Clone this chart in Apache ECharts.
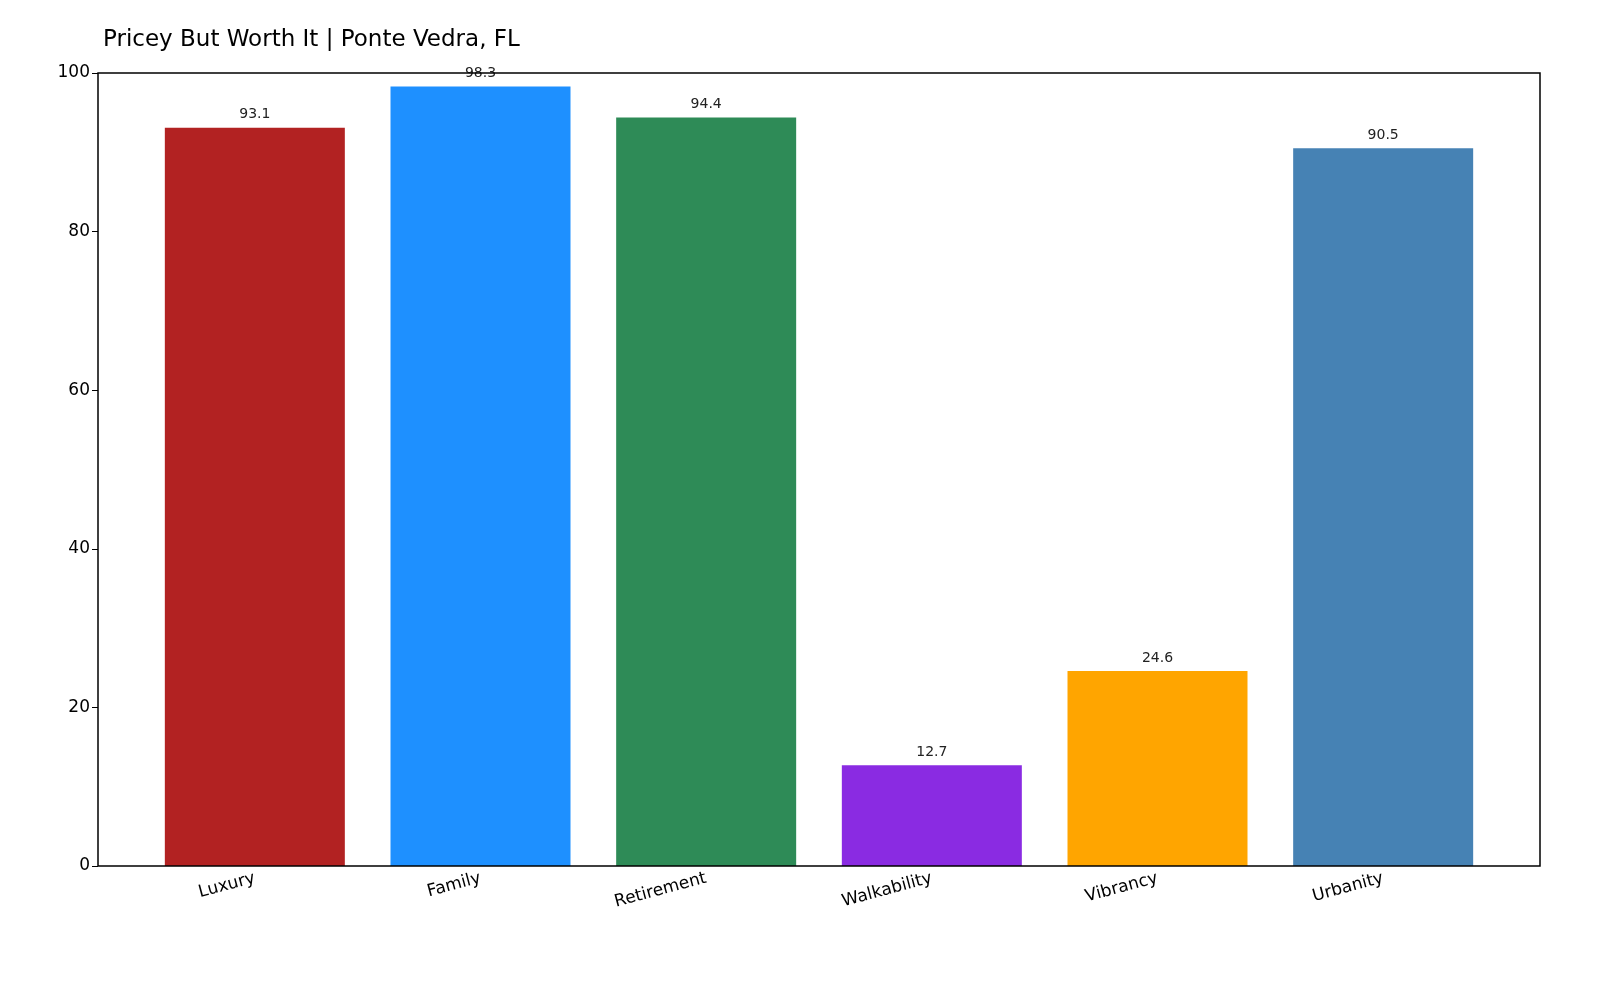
<!DOCTYPE html>
<html><head><meta charset="utf-8">
<script src="https://cdn.jsdelivr.net/npm/echarts@6/dist/echarts.min.js"></script>
<style>html,body{margin:0;background:#fff}#c{width:1600px;height:1000px}</style>
</head><body><div id="c"></div>
<script>
const categories=['Luxury','Family','Retirement','Walkability','Vibrancy','Urbanity'];
const values=[93.1,98.3,94.4,12.7,24.6,90.5];
const colors=['#b22222','#1e90ff','#2e8b57','#8a2be2','#ffa500','#4682b4'];
const chart=echarts.init(document.getElementById('c'));
chart.setOption({
 animation:false,
 title:{text:'Pricey But Worth It | Ponte Vedra, FL',left:98,top:24,textStyle:{fontFamily:'DejaVu Sans',fontSize:23,fontWeight:'normal',color:'#000'}},
 grid:{left:142,right:104,top:73,bottom:134},
 graphic:[{type:'rect',shape:{x:98,y:73,width:1442,height:793},style:{fill:'none',stroke:'#000',lineWidth:1.5},z:100}],
 xAxis:{type:'category',data:categories,axisLine:{show:false},axisTick:{alignWithLabel:true,length:6,lineStyle:{color:'#000'}},
  axisLabel:{rotate:15,fontSize:17,color:'#000',fontFamily:'DejaVu Sans',margin:12,interval:0}},
 yAxis:{type:'value',min:0,max:100,interval:20,offset:44,axisLine:{show:false},axisTick:{show:true,length:6,lineStyle:{color:'#000'}},splitLine:{show:false},
  axisLabel:{fontSize:17,color:'#000',fontFamily:'DejaVu Sans',margin:8}},
 series:[{type:'bar',barWidth:180,data:values.map((v,i)=>({value:v,itemStyle:{color:colors[i]}})),
  label:{show:true,position:'top',distance:6,fontSize:14,color:'#222',fontFamily:'DejaVu Sans'}}]
});
</script></body></html>
